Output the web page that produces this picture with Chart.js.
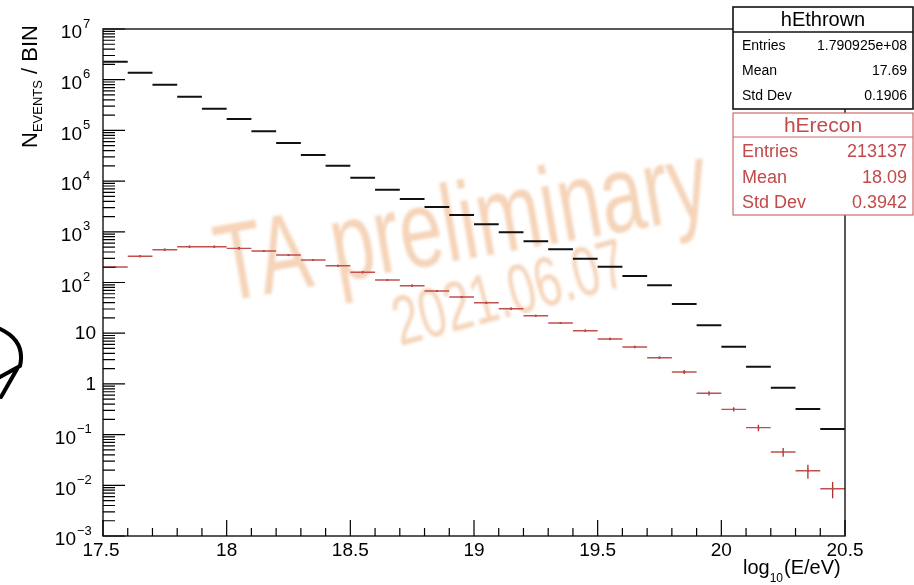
<!DOCTYPE html>
<html>
<head>
<meta charset="utf-8">
<script src="https://cdn.jsdelivr.net/npm/chart.js@4.4.1/dist/chart.umd.min.js"></script>
<style>
  html, body { margin: 0; padding: 0; background: #fff; }
  #wrap { width: 914px; height: 585px; position: relative; }
</style>
</head>
<body>
<div id="wrap"><canvas id="energyChart"></canvas></div>
<script>
// bins in log10(E/eV), lower edges, width 0.1
const binLow = [17.5, 17.6, 17.7, 17.8, 17.9, 18.0, 18.1, 18.2, 18.3, 18.4,
                18.5, 18.6, 18.7, 18.8, 18.9, 19.0, 19.1, 19.2, 19.3, 19.4,
                19.5, 19.6, 19.7, 19.8, 19.9, 20.0, 20.1, 20.2, 20.3, 20.4];
const binWidth = 0.1;

// hEthrown (black)
const thrown = [2.27e6, 1.37e6, 7.96e5, 4.62e5, 2.68e5, 1.68e5, 9.6e4, 5.64e4, 3.27e4, 2.01e4,
                1.17e4, 6.76e3, 4.43e3, 3.08e3, 2.14e3, 1.41e3, 977, 650, 452, 294,
                205, 134, 88, 37.7, 14.3, 5.42, 2.18, 0.84, 0.32, 0.129];

// hErecon (red) + errors
const recon = [202, 329, 444, 508, 508, 472, 418, 348, 278, 214,
               159, 112, 86.5, 68, 51.7, 39.9, 30.4, 22.1, 15.9, 11.2,
               7.7, 5.35, 3.29, 1.72, 0.653, 0.315, 0.137, 0.0454, 0.0194, 0.00857];
const reconErr = [9, 15, 20, 23, 23, 22, 19, 16, 13, 10,
                  7, 5, 4, 3, 2.4, 1.8, 1.4, 1.0, 0.75, 0.55,
                  0.4, 0.3, 0.2, 0.15, 0.06, 0.03, 0.02, 0.009, 0.006, 0.003];

// axis labels
const xTickValues = [17.5, 18, 18.5, 19, 19.5, 20, 20.5];
const xTickLabels = ['17.5', '18', '18.5', '19', '19.5', '20', '20.5'];
const yDecades = [-3, -2, -1, 0, 1, 2, 3, 4, 5, 6, 7];

const statsThrown = { name: 'hEthrown', rows: [['Entries', '1.790925e+08'], ['Mean', '17.69'], ['Std Dev', '0.1906']] };
const statsRecon = { name: 'hErecon', rows: [['Entries', '213137'], ['Mean', '18.09'], ['Std Dev', '0.3942']] };

const FONT = '"Liberation Sans", Arial, Helvetica, sans-serif';
const RED = '#c0504d';

// histogram steps: one flat segment per bin, gaps between
function steps(vals) {
  const out = [];
  vals.forEach((v, i) => {
    out.push({ x: binLow[i], y: v }, { x: binLow[i] + binWidth, y: v }, { x: binLow[i] + binWidth, y: null });
  });
  return out;
}
function errBars(vals, errs) {
  const out = [];
  vals.forEach((v, i) => {
    const c = binLow[i] + binWidth / 2;
    out.push({ x: c, y: v - errs[i] }, { x: c, y: v + errs[i] }, { x: c, y: null });
  });
  return out;
}

const rootStyle = {
  id: 'rootStyle',
  beforeDatasetsDraw(chart) {
    const ctx = chart.ctx;
    // watermark
    ctx.save();
    ctx.filter = 'blur(1.8px)';
    ctx.fillStyle = 'rgba(232,160,100,0.45)';
    ctx.font = '110px ' + FONT;
    ctx.translate(223, 302);
    ctx.rotate(-10 * Math.PI / 180);
    ctx.scale(0.71, 1);
    ctx.fillText('TA preliminary', 0, 0);
    ctx.restore();
    ctx.save();
    ctx.filter = 'blur(1.8px)';
    ctx.fillStyle = 'rgba(232,160,100,0.45)';
    ctx.font = '70px ' + FONT;
    ctx.translate(400, 346);
    ctx.rotate(-15 * Math.PI / 180);
    ctx.scale(0.68, 1);
    ctx.fillText('2021.06.07', 0, 0);
    ctx.restore();
  },
  afterDraw(chart) {
    const ctx = chart.ctx;
    const a = chart.chartArea;
    const xs = chart.scales.x, ys = chart.scales.y;
    ctx.save();
    // frame
    ctx.strokeStyle = '#222';
    ctx.lineWidth = 1.5;
    ctx.strokeRect(a.left, a.top, a.right - a.left, a.bottom - a.top);

    // y ticks (inside)
    ctx.lineWidth = 1.2;
    ctx.strokeStyle = '#000';
    ctx.beginPath();
    yDecades.forEach(d => {
      const y = ys.getPixelForValue(Math.pow(10, d));
      ctx.moveTo(a.left, y); ctx.lineTo(a.left + 22, y);
      if (d < 7) {
        for (let m = 2; m <= 9; m++) {
          const ym = ys.getPixelForValue(m * Math.pow(10, d));
          ctx.moveTo(a.left, ym); ctx.lineTo(a.left + 12, ym);
        }
      }
    });
    // x ticks (inside)
    for (let i = 0; i <= 30; i++) {
      const v = 17.5 + i * 0.1;
      const x = xs.getPixelForValue(v);
      const len = (i % 5 === 0) ? 16 : 8;
      ctx.moveTo(x, a.bottom); ctx.lineTo(x, a.bottom - len);
    }
    ctx.stroke();

    // y labels
    ctx.fillStyle = '#000';
    ctx.textBaseline = 'middle';
    yDecades.forEach(d => {
      const y = ys.getPixelForValue(Math.pow(10, d));
      if (d === 0 || d === 1) {
        ctx.font = '19px ' + FONT;
        ctx.textAlign = 'right';
        ctx.fillText(d === 0 ? '1' : '10', 96, y + 1);
      } else {
        const exp = d < 0 ? '\u2212' + (-d) : String(d);
        const baseRight = d < 0 ? 76 : 82;
        ctx.font = '19px ' + FONT;
        ctx.textAlign = 'right';
        ctx.fillText('10', baseRight, y + 4);
        ctx.font = '13px ' + FONT;
        ctx.textAlign = 'left';
        ctx.fillText(exp, baseRight + 1, y - 5);
      }
    });

    // x labels
    ctx.font = '19px ' + FONT;
    ctx.textAlign = 'center';
    xTickValues.forEach((v, i) => {
      ctx.fillText(xTickLabels[i], xs.getPixelForValue(v) - (i === 0 ? 2 : 0), 551);
    });

    // x title: log10(E/eV), right aligned at axis end
    ctx.textBaseline = 'alphabetic';
    ctx.textAlign = 'left';
    let tx = 743;
    ctx.font = '20px ' + FONT;
    ctx.fillText('log', tx, 574);
    tx += ctx.measureText('log').width;
    ctx.font = '12px ' + FONT;
    ctx.fillText('10', tx, 582);
    tx += ctx.measureText('10').width + 1;
    ctx.font = '20px ' + FONT;
    ctx.fillText('(E/eV)', tx, 574);

    // y title (rotated)
    ctx.save();
    ctx.translate(37, 148);
    ctx.rotate(-Math.PI / 2);
    let ty = 0;
    ctx.font = '22px ' + FONT;
    ctx.fillText('N', ty, 0);
    ty += ctx.measureText('N').width;
    ctx.font = '13px ' + FONT;
    ctx.fillText('EVENTS', ty, 5);
    ty += ctx.measureText('EVENTS').width;
    ctx.font = '22px ' + FONT;
    ctx.fillText(' / BIN', ty, 0);
    ctx.restore();

    // stats boxes
    function statBox(s, top, sep, bottom, color, border, titleSize, rowSize, rowYs, titleY, lw) {
      ctx.fillStyle = '#fff';
      ctx.fillRect(733, top, 180, bottom - top);
      ctx.strokeStyle = border;
      ctx.lineWidth = lw;
      ctx.strokeRect(733, top, 180, bottom - top);
      ctx.beginPath();
      ctx.moveTo(733, sep); ctx.lineTo(913, sep);
      ctx.stroke();
      ctx.fillStyle = color;
      ctx.textBaseline = 'middle';
      ctx.font = titleSize + 'px ' + FONT;
      ctx.textAlign = 'center';
      ctx.fillText(s.name, 823, titleY);
      ctx.font = rowSize + 'px ' + FONT;
      s.rows.forEach((r, i) => {
        ctx.textAlign = 'left';
        ctx.fillText(r[0], 742, rowYs[i]);
        ctx.textAlign = 'right';
        ctx.fillText(r[1], 907, rowYs[i]);
      });
    }
    statBox(statsThrown, 7, 32, 109, '#000', '#111', 20, 14, [46, 71, 96], 20, 1.6);
    statBox(statsRecon, 113, 137, 215, '#c24a4a', '#d06a6a', 21, 18, [152, 178, 203], 126, 1.2);

    // pen doodle at left edge
    ctx.strokeStyle = '#000';
    ctx.lineWidth = 4;
    ctx.lineCap = 'round';
    ctx.lineJoin = 'round';
    ctx.beginPath();
    ctx.moveTo(-2, 328);
    ctx.quadraticCurveTo(26, 340, 20, 366);
    ctx.lineTo(-2, 378);
    ctx.moveTo(17, 369);
    ctx.lineTo(1, 397);
    ctx.stroke();
    ctx.restore();
  }
};

new Chart(document.getElementById('energyChart'), {
  type: 'line',
  data: {
    datasets: [
      { label: 'hEthrown', data: steps(thrown), borderColor: '#111', borderWidth: 2, pointRadius: 0, spanGaps: false },
      { label: 'hErecon', data: steps(recon), borderColor: RED, borderWidth: 1.4, pointRadius: 0, spanGaps: false },
      { label: 'hErecon err', data: errBars(recon, reconErr), borderColor: '#b03030', borderWidth: 1.3, pointRadius: 0, spanGaps: false },
      { label: 'hErecon centers', data: recon.map((v, i) => ({ x: binLow[i] + binWidth / 2, y: v })), showLine: false,
        pointRadius: 1.1, pointBackgroundColor: '#5a1010', pointBorderWidth: 0 }
    ]
  },
  options: {
    responsive: true,
    maintainAspectRatio: false,
    animation: false,
    layout: { padding: { left: 103, right: 69, top: 29, bottom: 49 } },
    scales: {
      x: { type: 'linear', min: 17.5, max: 20.5, display: false },
      y: { type: 'logarithmic', min: 1e-3, max: 1e7, display: false }
    },
    plugins: { legend: { display: false }, tooltip: { enabled: false } }
  },
  plugins: [rootStyle]
});
</script>
</body>
</html>
